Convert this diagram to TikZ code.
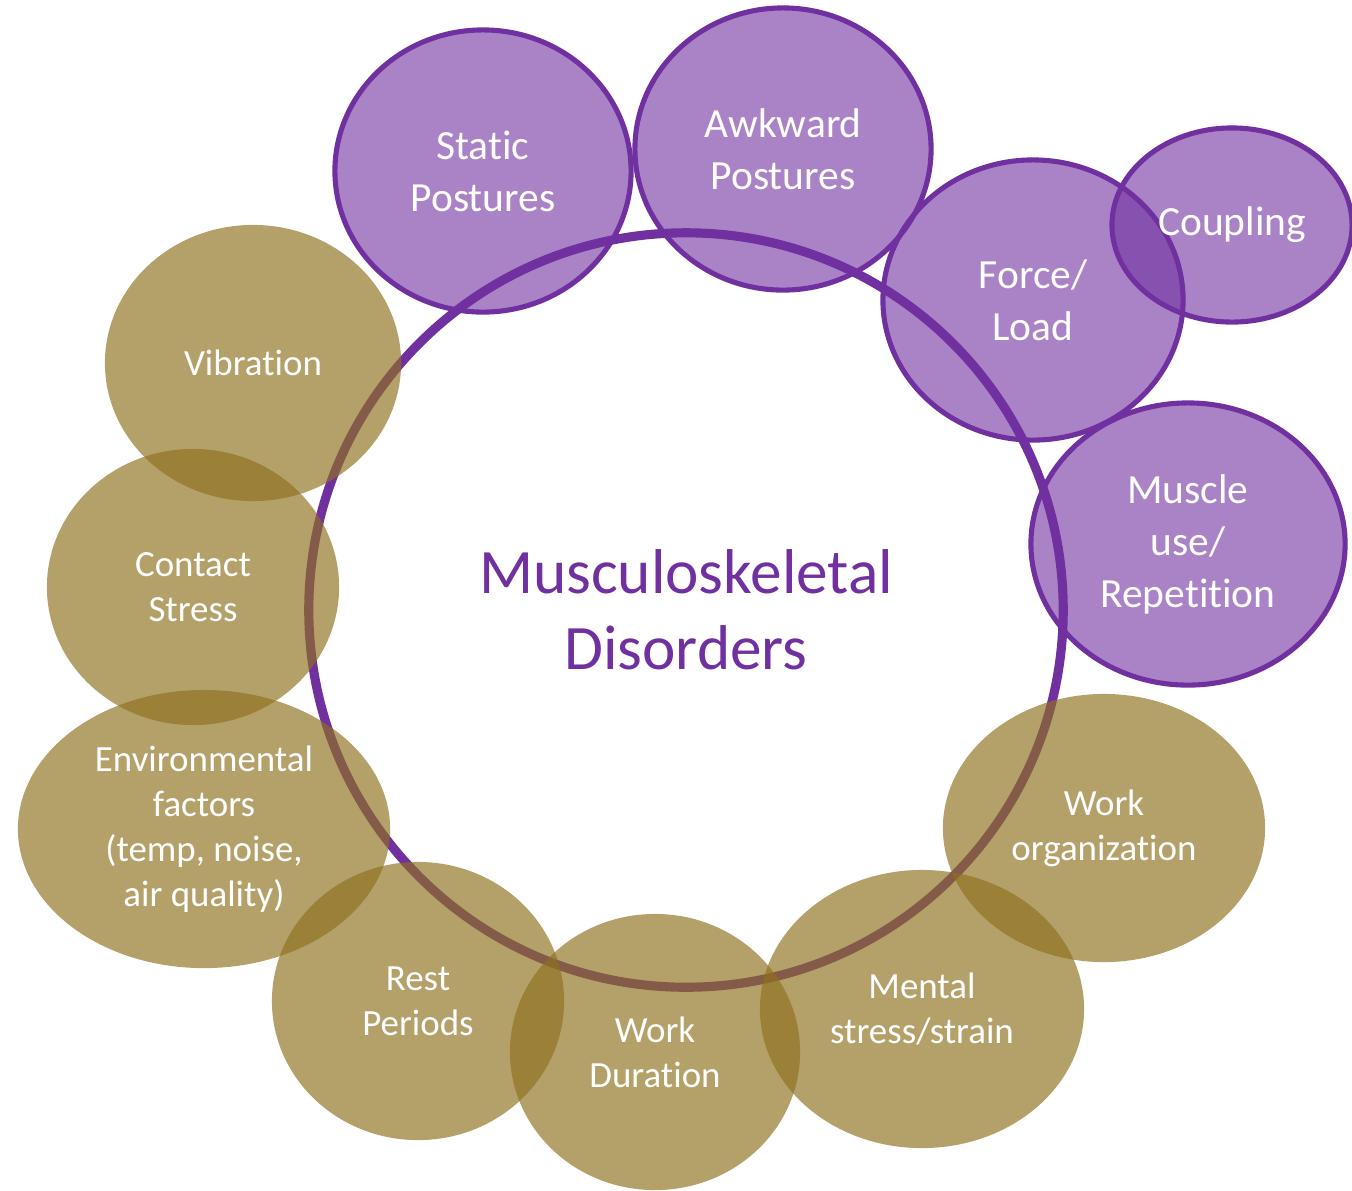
\documentclass[tikz,border=0pt]{standalone}
\usepackage{fontspec}
\setmainfont{Carlito}[Ligatures=NoCommon]
\usetikzlibrary{shapes.geometric}
\definecolor{msdpurple}{HTML}{7030A0}
\definecolor{msdolive}{RGB}{143,113,31}

\begin{document}
\begin{tikzpicture}[x=0.01cm, y=-0.01cm,
    purplebubble/.style={ellipse, draw=msdpurple, line width=1.45pt,
        fill=msdpurple, fill opacity=0.6, text opacity=1, text=white,
        inner sep=0pt, align=center, font=\fontsize{11.8}{14.8}\selectfont},
    olivebubble/.style={ellipse, fill=msdolive, fill opacity=0.67,
        text opacity=1, text=white, inner sep=0pt, align=center,
        font=\fontsize{10.5}{12.8}\selectfont},
    hub/.style={circle, draw=msdpurple, line width=2.6pt, text=msdpurple,
        minimum size=7.54cm, inner sep=0pt, align=center,
        font=\fontsize{18}{21.6}\selectfont}
]
    \useasboundingbox (0,0) rectangle (1352,1190);
    % physical demands
    \node[purplebubble, minimum width=2.96cm, minimum height=2.82cm] (static) at (483,171) {Static\\Postures};
    \node[purplebubble, minimum width=2.96cm, minimum height=2.82cm] (awkward) at (783,149) {Awkward\\Postures};
    \node[purplebubble, minimum width=3.00cm, minimum height=2.80cm] (force) at (1033,300) {Force/\\Load};
    \node[purplebubble, minimum width=2.40cm, minimum height=1.94cm] (coupling) at (1232,225) {Coupling};
    \node[purplebubble, minimum width=3.14cm, minimum height=2.82cm] (muscle) at (1188,544) {Muscle\\use/\\Repetition};
    % ring
    \node[hub] (msd) at (686,610) {Musculoskeletal\\Disorders};
    % other factors
    \node[olivebubble, minimum width=2.96cm, minimum height=2.76cm] (vibration) at (253,363) {Vibration};
    \node[olivebubble, minimum width=2.92cm, minimum height=2.76cm] (contact) at (193,587) {Contact\\Stress};
    \node[olivebubble, minimum width=3.72cm, minimum height=2.78cm] (environment) at (204,829) {Environmental\\factors\\(temp, noise,\\air quality)};
    \node[olivebubble, minimum width=2.92cm, minimum height=2.78cm] (rest) at (418,1001) {Rest\\Periods};
    \node[olivebubble, minimum width=2.90cm, minimum height=2.76cm] (duration) at (655,1052) {Work\\Duration};
    \node[olivebubble, minimum width=3.24cm, minimum height=2.78cm] (mental) at (922,1009) {Mental\\stress/strain};
    \node[olivebubble, minimum width=3.22cm, minimum height=2.68cm] (organization) at (1104,828) {Work\\organization};
\end{tikzpicture}
\end{document}
